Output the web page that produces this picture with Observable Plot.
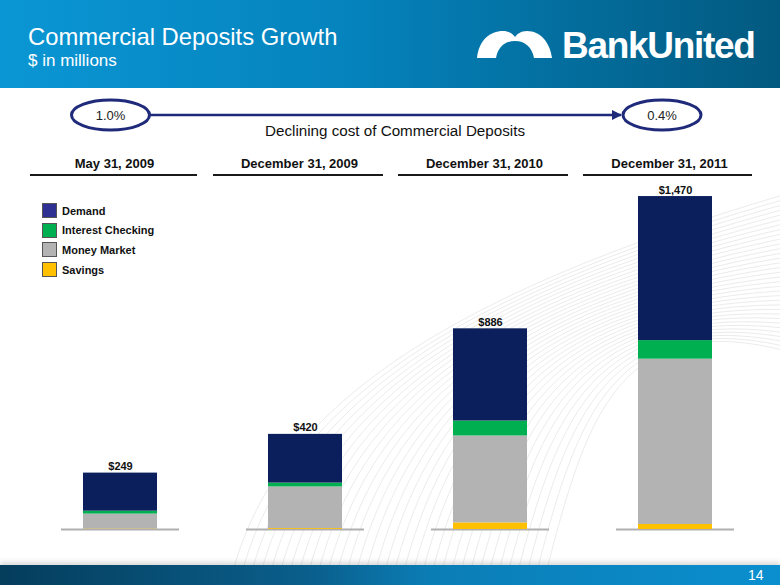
<!DOCTYPE html>
<html>
<head>
<meta charset="utf-8">
<script src="https://cdn.jsdelivr.net/npm/d3@7"></script>
<script src="https://cdn.jsdelivr.net/npm/@observablehq/plot@0.6"></script>
<style>
  html, body { margin: 0; padding: 0; background: #fff; }
  #wrap { position: relative; width: 780px; height: 585px; overflow: hidden; background: #fff; font-family: Arial, "Liberation Sans", sans-serif; }
  #chart { position: absolute; left: 0; top: 0; z-index: 1; }
  #deco { position: absolute; left: 0; top: 0; z-index: 0; }
  .abs { position: absolute; z-index: 2; }
  #header { left: 0; top: 0; width: 780px; height: 88px; background: linear-gradient(90deg, #0a96d4 0%, #0583bd 45%, #02597f 100%); }
  #title { left: 28px; top: 23px; color: #fff; font-size: 23.8px; }
  #subtitle { left: 28px; top: 51px; color: #fff; font-size: 17px; }
  #footer { left: 0; top: 565px; width: 780px; height: 20px; background: linear-gradient(90deg, #053d5c 0%, #0a5f8c 40%, #0b7db5 55%, #0b8fcf 100%); box-shadow: 0 -3px 5px rgba(0,0,0,0.15); }
  #page { left: 748px; top: 567px; color: #fff; font-size: 14px; }
  .uline { height: 2px; background: #1a1a1a; top: 174px; }
  .leg { left: 42px; font-size: 11px; font-weight: bold; color: #111; display: flex; align-items: center; }
  .sw { width: 13px; height: 13px; border: 1px solid #555; margin-right: 5px; }
  #decl { left: 0; width: 790px; text-align: center; top: 122px; font-size: 15.2px; color: #111; }
</style>
</head>
<body>
<div id="wrap">
  <svg id="deco" width="780" height="585"></svg>
  <div id="chart"></div>
  <div id="header" class="abs"></div>
  <div id="title" class="abs">Commercial Deposits Growth</div>
  <div id="subtitle" class="abs">$ in millions</div>
  <svg class="abs" style="left:0;top:0" width="780" height="88">
    <path d="M477,58 C479,40 490,31 503,31 C509,31 513,34 515,37 C517,34 521,31 527,31 C540,31 550,42 552,58 L534,58 C532,47 525,41 515,41 C505,41 498,47 496,58 Z" fill="#fff"/>
    <text x="562" y="58" fill="#fff" font-family="Arial, 'Liberation Sans', sans-serif" font-weight="bold" font-size="37" letter-spacing="-1.3">BankUnited</text>
  </svg>
  <svg class="abs" style="left:0;top:90px" width="780" height="50">
    <defs>
      <marker id="ah" viewBox="0 0 10 10" refX="9" refY="5" markerWidth="4" markerHeight="4" orient="auto">
        <path d="M0,0 L10,5 L0,10 Z" fill="#1f2a7a"/>
      </marker>
    </defs>
    <ellipse cx="110.5" cy="25" rx="39" ry="15" fill="#fff" stroke="#1f2a7a" stroke-width="3"/>
    <ellipse cx="662" cy="25" rx="39" ry="15" fill="#fff" stroke="#1f2a7a" stroke-width="3"/>
    <line x1="150" y1="25" x2="621" y2="25" stroke="#1f2a7a" stroke-width="2.5" marker-end="url(#ah)"/>
    <text x="110.5" y="30" text-anchor="middle" font-family="Arial, 'Liberation Sans', sans-serif" font-size="13" fill="#222">1.0%</text>
    <text x="662" y="30" text-anchor="middle" font-family="Arial, 'Liberation Sans', sans-serif" font-size="13" fill="#222">0.4%</text>
  </svg>
  <div id="decl" class="abs">Declining cost of Commercial Deposits</div>
  <div class="abs uline" style="left:30px;width:167px"></div>
  <div class="abs uline" style="left:213px;width:170px"></div>
  <div class="abs uline" style="left:398px;width:170px"></div>
  <div class="abs uline" style="left:583px;width:169px"></div>
  <div id="legend"></div>
  <div id="footer" class="abs"></div>
  <div id="page" class="abs">14</div>
</div>
<script>
const dates = ["May 31, 2009", "December 31, 2009", "December 31, 2010", "December 31, 2011"];
const series = ["Savings", "Money Market", "Interest Checking", "Demand"];
const savings = [2, 4, 29, 22];
const moneyMarket = [66, 184, 384, 730];
const interestChecking = [13, 17, 66, 82];
const demand = [168, 215, 407, 636];
const totals = [249, 420, 886, 1470];
const totalLabels = ["$249", "$420", "$886", "$1,470"];
const legendOrder = ["Demand", "Interest Checking", "Money Market", "Savings"];

const barColors = {"Savings": "#ffc000", "Money Market": "#b3b3b3", "Interest Checking": "#00b050", "Demand": "#0b1f5c"};
const legendColors = {"Savings": "#ffc000", "Money Market": "#b3b3b3", "Interest Checking": "#00b050", "Demand": "#2e3192"};

const valuesBySeries = {"Savings": savings, "Money Market": moneyMarket, "Interest Checking": interestChecking, "Demand": demand};
const rows = [];
dates.forEach((d, i) => series.forEach(s => rows.push({date: d, series: s, value: valuesBySeries[s][i]})));
const totalRows = dates.map((d, i) => ({date: d, total: totals[i], label: totalLabels[i]}));

const chart = Plot.plot({
  width: 780,
  height: 585,
  marginLeft: 27.5,
  marginRight: 12.5,
  marginTop: 189.25,
  marginBottom: 56,
  style: {background: "transparent", fontFamily: "Arial, 'Liberation Sans', sans-serif", color: "#111"},
  x: {domain: dates, paddingInner: 0.6, paddingOuter: 0.3},
  y: {domain: [0, 1500], axis: null},
  color: {domain: series, range: series.map(s => barColors[s])},
  marks: [
    Plot.tickY(dates, {x: d => d, y: () => 0, stroke: "#b0b0b0", strokeWidth: 2, insetLeft: -22, insetRight: -22}),
    Plot.barY(rows, {x: "date", y: "value", fill: "series", order: series}),
    Plot.text(totalRows, {x: "date", y: "total", text: "label", lineAnchor: "bottom", dy: -3, fontWeight: "bold", fontSize: 11, fill: "#111"}),
    Plot.axisX({anchor: "top", tickSize: 0, fontWeight: "bold", fontSize: 13, dy: -13, dx: -6, label: null, fill: "#111"})
  ]
});
document.getElementById("chart").appendChild(chart);

const legend = document.getElementById("legend");
legendOrder.forEach((s, i) => {
  const div = document.createElement("div");
  div.className = "abs leg";
  div.style.top = (203 + i * 19.7) + "px";
  div.innerHTML = `<span class="sw" style="background:${legendColors[s]}"></span>${s}`;
  legend.appendChild(div);
});

// faint decorative background swoosh (purely ornamental)
const deco = d3.select("#deco");
for (let i = 0; i < 34; i++) {
  const x0 = 232 + i * 9.5;
  deco.append("path")
    .attr("d", `M${x0},575 C${x0 + 40},420 ${420 + i * 6},300 ${800},${190 + i * 5}`)
    .attr("fill", "none")
    .attr("stroke", "#e6e6e6")
    .attr("stroke-width", 0.8);
}
</script>
</body>
</html>
